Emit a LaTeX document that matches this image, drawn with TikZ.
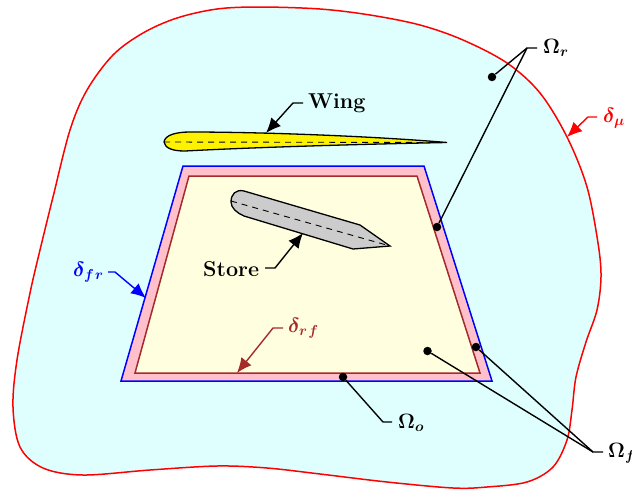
\documentclass[tikz,border=0pt]{standalone}
\usetikzlibrary{arrows.meta}
\definecolor{skyb}{HTML}{DFFFFF}
\definecolor{pinkb}{HTML}{FFC0CB}
\definecolor{ivoryb}{HTML}{FFFFE0}
\definecolor{brownb}{HTML}{A52A2A}
\definecolor{storeg}{HTML}{CCCCCC}
\tikzset{
  lab/.style={inner sep=0pt,anchor=base west,font=\fontsize{21.5}{26}\selectfont\bfseries},
  mlab/.style={inner sep=0pt,anchor=base west,font=\fontsize{22}{26}\selectfont\boldmath},
  leader/.style={line width=1.4pt,-{Latex[length=15pt,width=13pt]}},
  plain/.style={line width=1.4pt},
  spot/.style={circle,fill=black,inner sep=0pt,minimum size=8.5pt},
  cline/.style={dash pattern=on 6pt off 5pt,line width=.9pt}
}
\begin{document}
\begin{tikzpicture}[x=1pt,y=-1pt]
\useasboundingbox (0,0) rectangle (632,491);
% outer region
\draw[fill=skyb,draw=red,line width=1.5pt]
 plot[smooth cycle,tension=.55] coordinates {
 (177,18) (217,9) (260,7) (320,9) (370,15) (420,25) (463,40) (507,63) (540,93) (567,137) (587,187) (598,243)
 (601,277) (597,310) (586,342) (576,377) (572,410) (567,440) (553,467) (527,482) (487,487) (453,488) (387,482)
 (320,474) (267,468) (217,466) (150,470) (83,475) (43,468) (20,447) (13,407) (17,360) (30,293) (40,250)
 (53,197) (70,130) (87,90) (113,55) (143,33)};
% frame
\draw[fill=pinkb,draw=blue,line width=1.5pt] (183,166) -- (424,166) -- (492,381) -- (121,381) -- cycle;
\draw[fill=ivoryb,draw=brownb,line width=1.5pt] (189,176) -- (417,176) -- (480,373) -- (135,373) -- cycle;
% wing
\draw[fill=yellow,draw=black,line width=1.3pt] (164,142)
 .. controls (165,135) and (176,132) .. (190,132)
 .. controls (260,132) and (370,136) .. (447,142.5)
 .. controls (370,144) and (260,147) .. (185,151)
 .. controls (172,151) and (165,148) .. (164,142) -- cycle;
\draw[cline] (164,142) -- (447,142.5);
% store
\draw[fill=storeg,draw=black,line width=1.3pt] (244,191) -- (360,225) -- (390,246) -- (353,249) -- (244,216)
 .. controls (237,213) and (231,208) .. (231,202)
 .. controls (231,194) and (236,189) .. (244,191) -- cycle;
\draw[cline] (231,201) -- (390,246);
% labels
\node[lab] (wing) at (308,108) {Wing};
\node[lab] (store) at (203,276) {Store};
\node[mlab,text=blue] (dfr) at (73,276) {$\delta_{f\mskip1.5mu r}$};
\node[mlab,text=brownb] (drf) at (288,332) {$\delta_{r\mskip1.5mu f}$};
\node[mlab,text=red] (dmu) at (603,122) {$\delta_{\mu}$};
\node[mlab] (omr) at (543,53) {$\Omega_{r}$};
\node[mlab] (omo) at (398,428) {$\Omega_{o}$};
\node[mlab] (omf) at (608,457) {$\Omega_{f}$};
% coordinates
\coordinate (wingtip) at (266,133);
\coordinate (wingst) at (303,103);
\coordinate (wingel) at (293,103);
\coordinate (storetip) at (303,233);
\coordinate (storest) at (265,268);
\coordinate (storeel) at (275,268);
\coordinate (dfrtip) at (146,298);
\coordinate (dfrst) at (108,272);
\coordinate (dfrel) at (115,272);
\coordinate (drftip) at (237,373);
\coordinate (drfst) at (283,328);
\coordinate (drfel) at (273,328);
\coordinate (dmutip) at (567,137);
\coordinate (dmust) at (597,117);
\coordinate (dmuel) at (588,117);
\node[spot] (r1) at (492,77) {};
\node[spot] (r2) at (437,227) {};
\node[spot] (o1) at (343,377) {};
\node[spot] (f1) at (427.5,351) {};
\node[spot] (f2) at (476,347) {};
\coordinate (rst) at (537,48);
\coordinate (re) at (527,48);
\coordinate (ost) at (392,422);
\coordinate (oe) at (383,422);
\coordinate (fst) at (603,452);
\coordinate (fe) at (593,452);
% connectors
\draw[leader] (wingst) -- (wingel) -- (wingtip);
\draw[leader] (storest) -- (storeel) -- (storetip);
\draw[leader,blue] (dfrst) -- (dfrel) -- (dfrtip);
\draw[leader,brownb] (drfst) -- (drfel) -- (drftip);
\draw[leader,red] (dmust) -- (dmuel) -- (dmutip);
\draw[plain] (rst) -- (re) -- (r1);
\draw[plain] (re) -- (r2);
\draw[plain] (o1) -- (oe) -- (ost);
\draw[plain] (fst) -- (fe) -- (f1);
\draw[plain] (fe) -- (f2);
\end{tikzpicture}
\end{document}
